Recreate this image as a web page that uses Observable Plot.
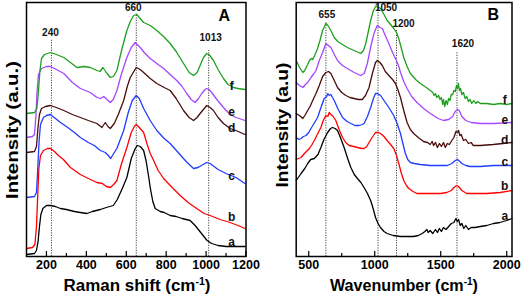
<!DOCTYPE html>
<html><head><meta charset="utf-8">
<script src="https://cdn.jsdelivr.net/npm/d3@7"></script>
<script src="https://cdn.jsdelivr.net/npm/@observablehq/plot@0.6"></script>
<style>
body{margin:0;background:#fff;}
#wrap{position:relative;width:521px;height:297px;overflow:hidden;background:#fff;}
#wrap svg{position:absolute;top:0;}
</style></head><body><div id="wrap"></div>
<script>
// ---------- data (intensity in arbitrary units) ----------
const seriesNames = ["a","b","c","d","e","f"];
const seriesColors = ["#000000","#ff0000","#1f3cff","#4a0c0c","#a546ff","#1ea01e"];

// Panel A: Raman shift (cm-1)
const A_a = [[100,2],[140,3],[150,6],[158,15],[165,30],[172,42],[182,48],[200,51],[220,51],[245,50],[270,48],[300,47],[340,45],[370,44],[403,43],[430,45],[470,47],[500,49],[535,51],[555,57],[580,68],[603,79],[625,98],[645,108],[655,111],[670,110],[687,106],[700,95],[712,80],[720,69],[733,55],[745,48],[770,45],[790,44],[820,41],[850,40],[880,38],[920,36],[945,31],[965,26],[985,21],[1005,16],[1028,13],[1060,11],[1100,10],[1150,10],[1195,10]];
const A_b = [[100,8],[130,9],[142,12],[150,30],[156,60],[162,88],[170,101],[185,106],[205,108],[220,108],[240,105],[260,101],[285,97],[320,89],[370,82],[410,78],[453,74],[480,73],[500,70],[520,69],[537,72],[553,76],[575,92],[603,109],[625,124],[640,130],[650,132],[665,129],[687,124],[705,112],[720,103],[737,96],[760,86],[787,78],[830,69],[870,61],[910,54],[953,48],[990,43],[1020,41],[1070,37],[1120,34],[1160,31],[1195,28]];
const A_c = [[100,59],[140,60],[150,64],[157,90],[163,115],[170,132],[185,139],[200,141],[220,142],[245,138],[270,134],[300,130],[340,124],[370,119],[410,114],[440,111],[470,106],[495,104],[510,101],[522,98],[537,103],[553,108],[570,117],[587,126],[610,144],[630,156],[650,161],[665,158],[687,148],[720,136],[753,126],[790,118],[820,113],[860,104],[900,95],[937,88],[960,89],[985,92],[1003,94],[1020,93],[1040,90],[1060,87],[1100,83],[1150,79],[1195,73]];
const A_d = [[100,104],[140,105],[150,110],[158,130],[165,142],[175,148],[195,150],[220,151],[250,149],[287,146],[330,142],[370,139],[410,136],[453,133],[478,129],[495,134],[508,130],[520,128],[540,133],[560,142],[587,156],[605,170],[620,179],[650,189],[670,187],[687,184],[720,178],[753,173],[790,169],[820,166],[850,158],[887,146],[915,139],[937,136],[955,139],[970,143],[1003,151],[1020,149],[1037,146],[1060,139],[1087,133],[1120,128],[1150,126],[1195,122]];
const A_e = [[100,119],[130,120],[140,122],[147,140],[153,165],[160,182],[175,188],[200,190],[220,190],[250,187],[287,183],[330,174],[370,168],[420,164],[453,159],[470,158],[487,160],[503,157],[520,154],[535,157],[553,166],[575,182],[603,199],[625,209],[645,214],[660,211],[670,209],[690,204],[720,198],[753,193],[787,188],[820,182],[853,176],[880,170],[903,163],[925,157],[945,154],[962,158],[978,163],[995,167],[1003,168],[1015,167],[1028,164],[1050,158],[1087,149],[1120,142],[1150,139],[1195,136]];
const A_f = [[100,143],[140,144],[152,148],[160,165],[167,185],[175,198],[190,202],[220,204],[250,202],[287,199],[320,194],[353,189],[390,190],[420,189],[453,186],[468,185],[483,189],[500,184],[520,179],[535,180],[553,186],[575,205],[603,226],[620,235],[637,241],[653,242],[665,239],[687,234],[720,231],[753,226],[787,220],[820,213],[850,205],[887,193],[915,184],[937,181],[955,184],[970,191],[987,199],[1003,203],[1015,202],[1037,196],[1060,187],[1087,178],[1110,172],[1137,169],[1160,168],[1195,167]];

// Panel B: Wavenumber (cm-1)
const B_a = [[405,76],[442,83],[470,88],[492,93],[515,97],[542,98],[570,102],[592,109],[615,117],[643,124],[665,128],[680,129],[700,128],[718,126],[740,119],[768,109],[795,98],[819,89],[845,82],[869,78],[895,74],[919,69],[945,63],[969,56],[990,47],[1006,39],[1025,33],[1044,29],[1070,25],[1094,23],[1140,21],[1195,20],[1250,20],[1295,20],[1330,21],[1360,23],[1380,25],[1395,27],[1405,24],[1420,26],[1440,23],[1460,27],[1475,24],[1490,28],[1505,25],[1520,29],[1540,27],[1560,30],[1580,33],[1600,34],[1615,38],[1625,35],[1635,37],[1648,31],[1660,33],[1675,28],[1690,31],[1710,27],[1730,29],[1760,29],[1800,30],[1848,31],[1900,33],[1948,34],[2000,36],[2040,38]];
const B_b = [[405,97],[442,99],[467,103],[490,106],[505,108],[525,112],[542,116],[565,122],[592,129],[610,136],[630,141],[645,140],[655,144],[668,142],[685,140],[705,136],[730,127],[756,119],[780,114],[806,111],[840,110],[869,109],[900,108],[919,108],[940,110],[957,114],[980,119],[1006,124],[1030,124],[1044,123],[1070,120],[1094,116],[1120,112],[1144,108],[1165,101],[1182,93],[1200,84],[1220,76],[1240,71],[1258,68],[1290,65],[1320,63],[1380,63],[1446,63],[1500,63],[1546,64],[1580,66],[1600,69],[1620,71],[1635,70],[1660,66],[1697,63],[1750,63],[1848,63],[1950,64],[2040,66]];
const B_c = [[405,119],[425,117],[442,118],[460,120],[480,121],[500,124],[517,128],[540,133],[567,139],[590,148],[617,158],[635,160],[645,163],[655,161],[668,162],[680,159],[693,156],[720,148],[756,139],[790,135],[819,133],[850,131],[881,131],[905,132],[919,133],[945,140],[969,149],[990,158],[1006,163],[1020,163],[1044,161],[1070,156],[1107,149],[1144,141],[1170,133],[1195,123],[1215,112],[1232,103],[1250,97],[1270,94],[1300,93],[1345,92],[1420,91],[1496,91],[1550,91],[1584,93],[1610,96],[1627,97],[1645,95],[1660,93],[1690,91],[1722,90],[1800,90],[1900,91],[2040,91]];
const B_d = [[405,143],[430,141],[455,138],[475,142],[492,146],[510,150],[530,156],[555,163],[580,171],[605,180],[630,184],[650,185],[668,183],[690,177],[718,169],[750,164],[781,161],[812,159],[844,158],[875,157],[906,157],[930,161],[957,169],[980,182],[1006,194],[1020,196],[1040,194],[1057,191],[1080,185],[1107,181],[1135,177],[1157,173],[1175,167],[1195,159],[1220,146],[1245,134],[1270,127],[1295,123],[1330,119],[1370,115],[1400,114],[1420,112],[1435,115],[1446,111],[1460,114],[1475,109],[1490,113],[1505,110],[1521,114],[1535,109],[1550,113],[1565,112],[1584,116],[1600,119],[1615,125],[1627,124],[1635,126],[1645,121],[1655,122],[1672,116],[1690,117],[1710,113],[1730,114],[1747,111],[1800,111],[1898,112],[1970,113],[2040,114]];
const B_e = [[405,174],[430,171],[455,169],[475,172],[492,174],[517,179],[540,183],[555,186],[580,196],[605,204],[630,213],[650,211],[668,209],[690,203],[718,196],[755,191],[793,188],[844,184],[894,181],[920,183],[944,193],[970,210],[994,223],[1019,231],[1040,229],[1057,228],[1080,221],[1107,213],[1135,204],[1157,198],[1180,191],[1195,184],[1220,175],[1245,168],[1280,160],[1320,154],[1370,148],[1421,143],[1480,138],[1521,136],[1560,137],[1590,140],[1610,145],[1627,147],[1640,146],[1660,140],[1690,136],[1730,134],[1800,133],[1900,133],[2040,134]];
const B_f = [[405,196],[430,189],[455,184],[470,186],[480,189],[492,192],[505,196],[520,198],[530,197],[545,201],[567,208],[585,216],[605,226],[630,233],[645,231],[655,229],[675,224],[693,219],[720,215],[743,213],[793,209],[844,206],[894,203],[915,206],[932,213],[950,224],[969,236],[990,246],[1006,250],[1020,250],[1044,248],[1070,242],[1094,236],[1120,232],[1144,228],[1165,224],[1182,218],[1200,209],[1220,199],[1245,190],[1270,183],[1310,177],[1345,173],[1380,170],[1421,166],[1440,164],[1450,161],[1460,163],[1470,159],[1484,161],[1495,157],[1505,159],[1515,152],[1521,157],[1530,150],[1540,156],[1550,152],[1560,158],[1570,156],[1580,162],[1590,162],[1600,166],[1610,165],[1620,171],[1627,168],[1634,173],[1642,166],[1650,168],[1660,162],[1672,164],[1685,158],[1697,160],[1710,155],[1722,157],[1735,153],[1750,156],[1765,153],[1780,155],[1800,153],[1848,153],[1900,152],[1950,153],[2000,152],[2040,153]];

// peak markers
const A_peakPos = [225, 650, 1013];
const A_peakTop = [217, 243, 206];
const A_peakLabels = ["240", "660", "1013"];
const A_peakLabelY = [224, 249, 219];
const B_peakPos = [630, 1025, 1165, 1623];
const B_peakTop = [234, 254, 226, 204];
const B_peakLabels = ["655", "1050", "1200", "1620"];
const B_peakLabelY = [242, 249, 233, 213];

// curve tags at right
const A_tagX = 1128;
const A_tagY = [14, 39, 80, 128, 144, 170];
const B_tagX = 1985;
const B_tagY = [40, 70, 94, 116, 136, 156];

// axis ticks
const A_major = [200, 400, 600, 800, 1000, 1200];
const A_minor = [300, 500, 700, 900, 1100];
const B_major = [500, 1000, 1500, 2000];
const B_minor = [750, 1250, 1750];

// ---------- drawing ----------
const FONT = "'Liberation Sans', Arial, Helvetica, sans-serif";
function tidy(list) {
  return list.flatMap((arr, i) => arr.map(([x, y]) => ({x, y, s: seriesNames[i]})));
}

function panel(opt) {
  const frameH = 254;
  const marks = [
    Plot.ruleX(opt.peakPos.map((p, i) => ({p, top: opt.peakTop[i]})), {
      x: "p", y1: 0, y2: "top", stroke: "#444", strokeWidth: 1, strokeDasharray: "1.2,1.3"
    }),
    Plot.line(tidy(opt.curves), {x: "x", y: "y", z: "s", stroke: "s", strokeWidth: 1.3, curve: "linear"}),
    ...opt.peakLabels.map((t, i) => Plot.text([t], {
      x: () => opt.peakPos[i], y: () => opt.peakLabelY[i], text: d => d,
      dx: opt.peakDx[i], fontSize: 10, fontWeight: "bold", fill: "#111"
    })),
    Plot.text(seriesNames, {x: () => opt.tagX, y: (d, i) => opt.tagY[i], text: d => d,
      fontSize: 12, fontWeight: "bold", fill: "#111"}),
    Plot.text([opt.letter], {frameAnchor: "top-right", dx: opt.letterDx, dy: opt.letterDy,
      fontSize: 16, fontWeight: "bold", fill: "#000"}),
    Plot.tickX(opt.major, {x: d => d, stroke: "#000", strokeWidth: 1.2, insetTop: frameH - 5}),
    Plot.tickX(opt.minor, {x: d => d, stroke: "#000", strokeWidth: 1.2, insetTop: frameH - 3}),
    Plot.axisX({ticks: opt.major, tickSize: 0, tickPadding: 4, tickFormat: "d", label: null,
      fontSize: 12.5, fontWeight: "bold", fill: "#000"}),
    Plot.frame({stroke: "#000", strokeWidth: 1.5})
  ];
  const svg = Plot.plot({
    width: opt.width, height: 297,
    marginLeft: opt.ml, marginRight: opt.mr, marginTop: 2, marginBottom: 41,
    x: {domain: opt.xDomain, axis: null},
    y: {domain: [0, 254], axis: null},
    color: {domain: seriesNames, range: seriesColors},
    style: {fontFamily: FONT, fontWeight: "bold", background: "transparent", overflow: "visible"},
    marks
  });
  const s = d3.select(svg);
  // y label
  s.append("text")
    .attr("transform", `translate(${opt.yLabX},${opt.yLabY}) rotate(-90)`)
    .attr("text-anchor", "middle")
    .attr("font-family", FONT).attr("font-weight", "bold").attr("font-size", 17)
    .attr("textLength", opt.yLabLen).attr("lengthAdjust", "spacingAndGlyphs")
    .attr("fill", "#000")
    .text(opt.yLabel);
  // x label with superscript
  const t = s.append("text")
    .attr("x", opt.xLabX).attr("y", 291)
    .attr("text-anchor", "middle")
    .attr("font-family", FONT).attr("font-weight", "bold").attr("font-size", 16)
    .attr("textLength", opt.xLabLen).attr("lengthAdjust", "spacingAndGlyphs")
    .attr("fill", "#000");
  t.append("tspan").text(opt.xLabel + " (cm");
  t.append("tspan").attr("dy", -6).attr("font-size", 10).text("-1");
  t.append("tspan").attr("dy", 6).text(")");
  return svg;
}

const wrap = document.getElementById("wrap");
const svgA = panel({
  width: 260, ml: 26, mr: 14.5, xDomain: [100, 1200],
  curves: [A_a, A_b, A_c, A_d, A_e, A_f],
  peakPos: A_peakPos, peakTop: A_peakTop, peakLabels: A_peakLabels, peakLabelY: A_peakLabelY,
  peakDx: [-1, -3, 2],
  tagX: A_tagX, tagY: A_tagY,
  letter: "A", letterDx: -16, letterDy: 7,
  major: A_major, minor: A_minor,
  yLabel: "Intensity (a.u.)", yLabX: 18, yLabY: 130, yLabLen: 138,
  xLabel: "Raman shift", xLabX: 137, xLabLen: 147
});
svgA.style.left = "0px";
wrap.appendChild(svgA);

const svgB = panel({
  width: 261, ml: 35.7, mr: 9.5, xDomain: [405, 2040],
  curves: [B_a, B_b, B_c, B_d, B_e, B_f],
  peakPos: B_peakPos, peakTop: B_peakTop, peakLabels: B_peakLabels, peakLabelY: B_peakLabelY,
  peakDx: [1, 8, 7, 6],
  tagX: B_tagX, tagY: B_tagY,
  letter: "B", letterDx: -13, letterDy: 6,
  major: B_major, minor: B_minor,
  yLabel: "Intensity (a.u)", yLabX: 28, yLabY: 125, yLabLen: 125,
  xLabel: "Wavenumber", xLabX: 144, xLabLen: 148
});
svgB.style.left = "260px";
wrap.appendChild(svgB);
</script></body></html>
